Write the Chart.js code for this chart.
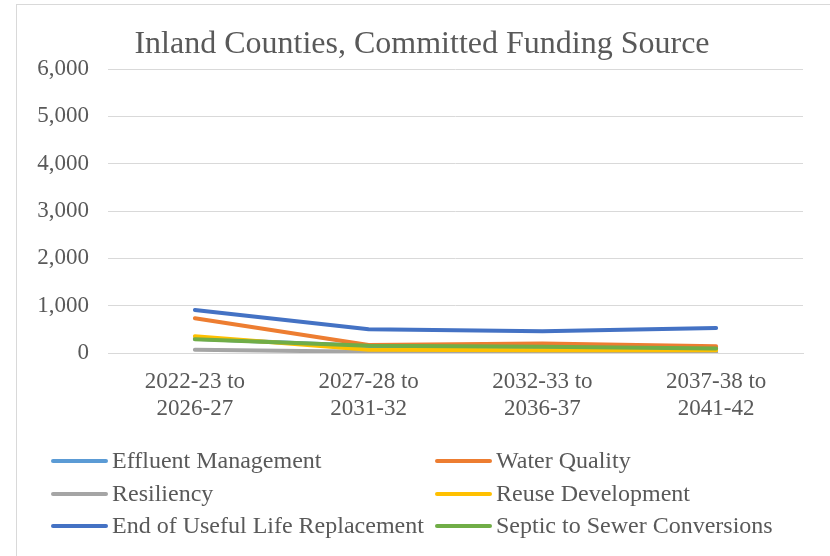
<!DOCTYPE html>
<html>
<head>
<meta charset="utf-8">
<script src="https://cdn.jsdelivr.net/npm/chart.js@4"></script>
<style>
    html, body { margin: 0; padding: 0; background: #fff; overflow: hidden; }
    #frame {
        position: absolute; left: 16px; top: 4px;
        width: 900px; height: 700px;
        border: 1px solid #d9d9d9;
    }
    #wrap { position: absolute; left: 0; top: 0; width: 830px; height: 556px; }
</style>
</head>
<body>
<div id="frame"></div>
<div id="wrap"><canvas id="fundingChart" width="830" height="556"></canvas></div>
<script>
// periods on the x axis
const periods = [
    ['2022-23 to', '2026-27'],
    ['2027-28 to', '2031-32'],
    ['2032-33 to', '2036-37'],
    ['2037-38 to', '2041-42']
];

const seriesNames = [
    'Effluent Management',
    'Water Quality',
    'Resiliency',
    'Reuse Development',
    'End of Useful Life Replacement',
    'Septic to Sewer Conversions'
];

const effluentManagement = [300, 150, 125, 90];
const waterQuality = [735, 170, 200, 140];
const resiliency = [70, 25, 25, 20];
const reuseDevelopment = [355, 70, 60, 60];
const endOfUsefulLife = [910, 500, 460, 530];
const septicToSewer = [290, 155, 130, 95];

const yTicks = [0, 1000, 2000, 3000, 4000, 5000, 6000];

const chartTitle = 'Inland Counties, Committed Funding Source';
const seriesColors = ['#5B9BD5', '#ED7D31', '#A5A5A5', '#FFC000', '#4472C4', '#70AD47'];
const seriesValues = [effluentManagement, waterQuality, resiliency, reuseDevelopment, endOfUsefulLife, septicToSewer];

const textColor = '#595959';
const fontFamily = "'Liberation Serif', 'Times New Roman', serif";

// title centred on the framed area, two column legend under the plot
const titleAndLegend = {
    id: 'titleAndLegend',
    afterDraw(chart) {
        const c = chart.ctx;
        c.save();
        c.fillStyle = textColor;
        c.font = '32px ' + fontFamily;
        c.textAlign = 'center';
        c.textBaseline = 'alphabetic';
        c.fillText(chartTitle, 422, 53);

        const colX = [53, 437];
        const rowY = [461, 494, 526];
        c.font = '24px ' + fontFamily;
        c.textBaseline = 'middle';
        c.textAlign = 'left';
        chart.data.datasets.forEach((ds, i) => {
            const x = colX[i % 2];
            const y = rowY[Math.floor(i / 2)];
            c.strokeStyle = ds.borderColor;
            c.lineWidth = 4;
            c.lineCap = 'round';
            c.beginPath();
            c.moveTo(x, y);
            c.lineTo(x + 53, y);
            c.stroke();
            c.fillStyle = textColor;
            c.fillText(ds.label, x + 59, y + 1);
        });
        c.restore();
    }
};

const ctx = document.getElementById('fundingChart').getContext('2d');
const fundingChart = new Chart(ctx, {
    type: 'line',
    data: {
        labels: periods,
        datasets: seriesNames.map((name, i) => ({
            label: name,
            data: seriesValues[i],
            borderColor: seriesColors[i],
            backgroundColor: seriesColors[i],
            borderWidth: 4,
            borderCapStyle: 'round',
            borderJoinStyle: 'round',
            pointRadius: 0,
            tension: 0,
            order: seriesNames.length - i // later series on top
        }))
    },
    options: {
        responsive: false,
        animation: false,
        layout: { padding: { left: 0, right: 27, top: 69, bottom: 113 } },
        plugins: {
            legend: { display: false },
            tooltip: { enabled: false },
            title: { display: false }
        },
        scales: {
            x: {
                offset: true,
                grid: { display: false, drawTicks: false },
                border: { display: true, color: '#d9d9d9', width: 1 },
                ticks: {
                    color: textColor,
                    font: { family: fontFamily, size: 23, lineHeight: 1.2 },
                    padding: 15,
                    maxRotation: 0,
                    autoSkip: false
                },
                afterFit(scale) { scale.height = 90; }
            },
            y: {
                min: 0,
                max: 6000,
                afterBuildTicks(scale) { scale.ticks = yTicks.map(v => ({ value: v })); },
                grid: { color: '#d9d9d9', lineWidth: 1, drawTicks: false },
                border: { display: false },
                ticks: {
                    color: textColor,
                    font: { family: fontFamily, size: 23 },
                    padding: 19,
                    callback: v => v.toLocaleString('en-US')
                },
                afterFit(scale) { scale.width = 108; }
            }
        }
    },
    plugins: [titleAndLegend]
});
</script>
</body>
</html>
